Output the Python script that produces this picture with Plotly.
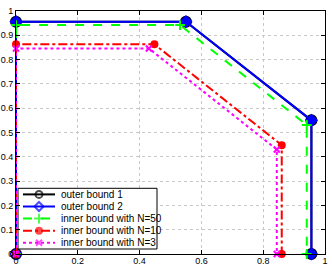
import plotly.graph_objects as go

names = ["outer bound 1", "outer bound 2", "inner bound with N=50",
         "inner bound with N=10", "inner bound with N=3"]
x_outer1 = [0, 0, 0.55, 0.956, 0.956]
y_outer1 = [0, 0.956, 0.956, 0.55, 0]
x_outer2 = [0, 0, 0.55, 0.956, 0.956]
y_outer2 = [0, 0.956, 0.956, 0.55, 0]
x_n50 = [0, 0, 0.531, 0.941, 0.941]
y_n50 = [0, 0.942, 0.942, 0.531, 0]
x_n10 = [0, 0, 0.448, 0.86, 0.86]
y_n10 = [0, 0.863, 0.863, 0.448, 0]
x_n3 = [0, 0, 0.43, 0.844, 0.844]
y_n3 = [0, 0.846, 0.846, 0.43, 0]
x_ticks = [0, 0.2, 0.4, 0.6, 0.8, 1]
x_ticklabels = ["0", "0.2", "0.4", "0.6", "0.8", "1"]
y_ticks = [0, 0.1, 0.2, 0.3, 0.4, 0.5, 0.6, 0.7, 0.8, 0.9, 1]
y_ticklabels = ["0", "0.1", "0.2", "0.3", "0.4", "0.5", "0.6", "0.7", "0.8", "0.9", "1"]

xs = [x_outer1, x_outer2, x_n50, x_n10, x_n3]
ys = [y_outer1, y_outer2, y_n50, y_n10, y_n3]
colors = ["#000000", "#0000ff", "#00ff00", "#ff0000", "#ff00ff"]
dashes = ["solid", "solid", "dash", "dashdot", "dot"]
symbols = ["circle-open", "diamond", "cross-thin-open", "circle", "x-thin-open"]
msizes = [10, 8, 7, 6, 6]

fig = go.Figure()
for n, x, y, c, d, s, ms in zip(names, xs, ys, colors, dashes, symbols, msizes):
    fig.add_trace(go.Scatter(
        x=x, y=y, name=n, mode="lines+markers", cliponaxis=False, showlegend=False,
        line=dict(color=c, width=2, dash=d),
        marker=dict(symbol=s, size=ms, color=c, line=dict(color=c, width=2)),
    ))

# ---- compact MATLAB-style legend on an overlay axis spanning the plot area ----
W, H = 309.0, 243.0          # plot area size in px
box_l, box_r, box_t, box_b = 2, 141, 177.3, 238   # px offsets from plot-area left / top
row0, row_h = 183.4, 12.1
line_l, line_r, text_l = 7, 39, 43
leg_sizes = [7, 7, 7, 6, 6]
leg_symbols = ["circle-open", "diamond-open", "cross-thin-open", "circle", "x-thin-open"]

def px(v):
    return v / W

def py(v):
    return 1 - v / H

fig.add_trace(go.Scatter(
    x=[px(box_l), px(box_r), px(box_r), px(box_l), px(box_l)],
    y=[py(box_t), py(box_t), py(box_b), py(box_b), py(box_t)],
    mode="lines", fill="toself", fillcolor="white",
    line=dict(color="black", width=1), xaxis="x2", yaxis="y2",
    showlegend=False, hoverinfo="skip", cliponaxis=False,
))
for i, (n, c, d, s, ms) in enumerate(zip(names, colors, dashes, leg_symbols, leg_sizes)):
    yy = py(row0 + row_h * i)
    fig.add_trace(go.Scatter(
        x=[px(line_l), px((line_l + line_r) / 2), px(line_r)], y=[yy, yy, yy],
        mode="lines+markers", xaxis="x2", yaxis="y2", showlegend=False,
        hoverinfo="skip", cliponaxis=False,
        line=dict(color=c, width=2, dash=d),
        marker=dict(symbol=s, size=[0, ms, 0], color=c, line=dict(color=c, width=2)),
    ))
    fig.add_annotation(x=px(text_l), y=yy, xref="x2", yref="y2", text=n,
                       showarrow=False, xanchor="left", yanchor="middle",
                       font=dict(family="Liberation Sans, Arial", size=10, color="black"))

axis_common = dict(
    range=[0, 1], showgrid=True, gridcolor="#c8c8c8", griddash="dot", gridwidth=1,
    zeroline=False, showline=True, linecolor="black", linewidth=1, mirror="ticks",
    ticks="inside", ticklen=4, tickcolor="black", automargin=False,
    tickfont=dict(family="Liberation Sans, Arial", size=9, color="black"),
)
fig.update_layout(
    width=332, height=266,
    margin=dict(l=16, r=7, t=11, b=12),
    paper_bgcolor="white", plot_bgcolor="white",
    xaxis=dict(**axis_common, tickvals=x_ticks, ticktext=x_ticklabels, ticklabelstandoff=-2),
    yaxis=dict(**axis_common, tickvals=y_ticks, ticktext=y_ticklabels),
    xaxis2=dict(overlaying="x", range=[0, 1], visible=False, fixedrange=True),
    yaxis2=dict(overlaying="y", range=[0, 1], visible=False, fixedrange=True),
    showlegend=False,
)
fig.write_html(
    "out.html",
    config={"displayModeBar": False},
    post_script="document.body.style.margin='0';document.body.style.padding='0';"
                "document.body.style.overflow='hidden';",
)
